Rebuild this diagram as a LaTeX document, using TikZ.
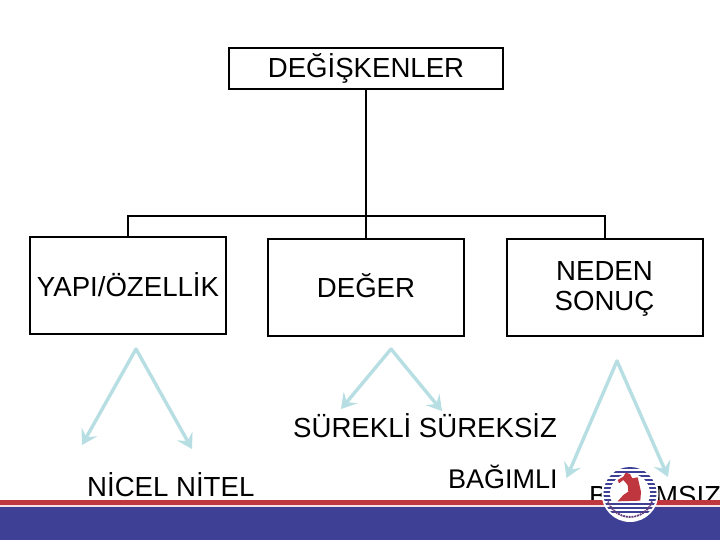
\documentclass[tikz,border=0pt]{standalone}
\usepackage{fontspec}
\setmainfont{Liberation Sans}
\usetikzlibrary{arrows.meta}
\definecolor{arrowblue}{HTML}{B7DEE2}
\definecolor{bandred}{HTML}{C0363F}
\definecolor{bandblue}{HTML}{3E4095}
\tikzset{
  boxnode/.style={draw=black,line width=2pt,minimum width=196pt,minimum height=97pt,inner sep=0pt,align=center,font=\fontsize{27.6}{30}\selectfont},
  wire/.style={draw=black,line width=2pt},
  label/.style={inner sep=0pt,anchor=base west,font=\fontsize{27.6}{30}\selectfont},
  pointer/.style={draw=arrowblue,line width=3.4pt,line cap=round,-{Stealth[length=15pt,width=18pt,inset=6pt,line width=1pt]}},
}
\begin{document}
\begin{tikzpicture}[x=1pt,y=-1pt]
\useasboundingbox (0,0) rectangle (720,540);
\clip (0,0) rectangle (720,540);
\fill[white] (0,0) rectangle (720,540);
% boxes
\node[boxnode,minimum width=274pt,minimum height=41pt] (top) at (366,68.5) {\raisebox{-1pt}{DEĞİŞKENLER}};
\node[boxnode] (yapi) at (128,285.5) {\raisebox{2pt}{YAPI/ÖZELLİK}};
\node[boxnode] (deger) at (366,287) {\raisebox{2pt}{DEĞER}};
\node[boxnode] (neden) at (604.5,287) {};
\node[inner sep=0pt,align=center,font=\fontsize{27.6}{30}\selectfont] (nedentext) at (604.5,288.5) {NEDEN\\SONUÇ};
% tree
\draw[wire] (top.south) -- (deger.north);
\draw[wire] (yapi.north) -- ++(0,-20) -| (neden.north);
% apexes and targets
\coordinate (a1) at (136,349);
\coordinate (a1l) at (82,445);
\coordinate (a1r) at (192,449);
\coordinate (a2) at (391,349);
\coordinate (a2l) at (341,409);
\coordinate (a2r) at (442,411);
\coordinate (a3) at (617,361);
\coordinate (a3l) at (566.5,478);
\coordinate (a3r) at (668,477);
\draw[pointer] (a1) -- (a1l);
\draw[pointer] (a1) -- (a1r);
\draw[pointer] (a2) -- (a2l);
\draw[pointer] (a2) -- (a2r);
\draw[pointer] (a3) -- (a3l);
\draw[pointer] (a3) -- (a3r);
% labels
\node[label] (nicel) at (87,496) {NİCEL NİTEL};
\node[label] (surekli) at (293,437) {SÜREKLİ SÜREKSİZ};
\node[label,font=\fontsize{27}{30}\selectfont] (bagimli) at (448,488) {BAĞIMLI};
\node[label] (bagimsiz) at (589,505) {BAĞIMSIZ};
% footer band
\fill[bandred] (0,500) rectangle (720,505);
\fill[bandblue] (0,507) rectangle (720,540);
\fill[white!85!bandred] (0,505) rectangle (720,507);
% logo
\coordinate (logo) at (630,493.5);
\fill[white] (logo) circle (28.5);
\begin{scope}
\clip (logo) circle (26.5);
\foreach \yy in {467,471,475,479,483,487,491,495,499}{
  \fill[bandblue] (600,\yy) rectangle (660,\yy+2.2);
}
\fill[white] (logo) circle (20);
\fill[white] (600,501) rectangle (660,524);
\foreach \yy in {503,507,511}{\fill[bandblue] (600,\yy) rectangle (660,\yy+2.4);}
\fill[white] (600,514) rectangle (660,524);
\end{scope}
\begin{scope}[shift={(595,460)},x=0.3333pt,y=-0.3333pt]
\fill[bandred] (68,124) -- (85,105) -- (100,95) -- (98,75) -- (85,60) -- (72,70) -- (68,60) -- (85,50) -- (92,38) -- (105,42) -- (112,55) -- (128,52) -- (138,95) -- (136,122) -- cycle;
\end{scope}
\draw[bandblue!70!bandred,line width=1.8pt,dash pattern=on 2pt off 0.8pt] (logo) ++(20:23.5) arc[start angle=20,end angle=160,radius=23.5];
\end{tikzpicture}
\end{document}
